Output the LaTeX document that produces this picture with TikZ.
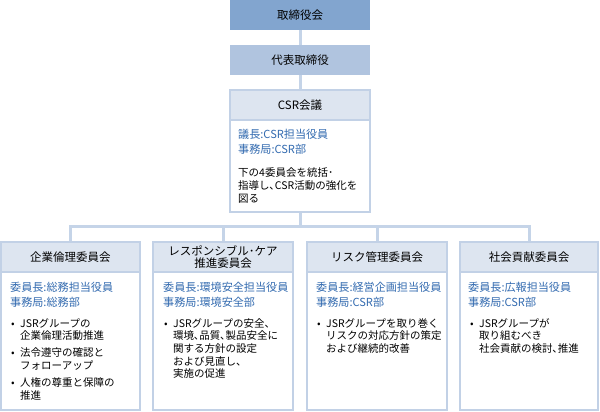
\documentclass[tikz,border=0pt]{standalone}
\usepackage{fontspec}
\setmainfont{Noto Sans CJK JP}
\definecolor{boardfill}{HTML}{82A5CF}
\definecolor{repfill}{HTML}{B0C4DF}
\definecolor{headfill}{HTML}{DDE5F0}
\definecolor{framecol}{HTML}{C2D1E6}
\definecolor{conncol}{HTML}{C5D4E8}
\definecolor{leadblue}{HTML}{336BB0}
\newcommand\mytitle{\fontsize{11.5}{13}\selectfont}
\newcommand\myblue{\fontsize{11.1}{15}\selectfont}
\newcommand\mybody{\fontsize{10.5}{12.7}\selectfont}
\newcommand\bul{\makebox[9pt][l]{•}}
\tikzset{
  fillbox/.style={rectangle, inner sep=0pt, draw=none, font=\mytitle},
  framebox/.style={rectangle, inner sep=0pt, draw=framecol, line width=1.2pt, fill=white},
  headbox/.style={rectangle, inner sep=0pt, draw=framecol, line width=1.2pt, fill=headfill, font=\mytitle, align=center},
  conn/.style={draw=conncol, line width=3pt},
  lead/.style={anchor=base west, inner sep=0pt, font=\myblue, text=leadblue},
  bodytext/.style={anchor=base west, inner sep=0pt, font=\mybody}
}
\begin{document}
\begin{tikzpicture}[x=1pt,y=-1pt]
\useasboundingbox (0,0) rectangle (600,412);
% top chain
\node[fillbox, fill=boardfill, minimum width=140pt, minimum height=30pt] (board) at (300,15) {取締役会};
\node[fillbox, fill=repfill, minimum width=140pt, minimum height=30pt] (rep) at (300,60) {代表取締役};
\node[framebox, minimum width=140pt, minimum height=122pt] (csr) at (300,151) {};
\node[headbox, minimum width=140pt, minimum height=30pt, anchor=north] (csrh) at (csr.north) {CSR会議};
\node[lead] (csrlead) at (238,139) {\begin{tabular}[t]{@{}l@{}}議長:CSR担当役員\\事務局:CSR部\end{tabular}};
\node[bodytext, font=\fontsize{10.5}{13}\selectfont] (csrbody) at (238,176) {\begin{tabular}[t]{@{}l@{}}下の4委員会を統括･\\指導し､CSR活動の強化を\\図る\end{tabular}};
% committees
\node[framebox, minimum width=139pt, minimum height=168pt] (c1) at (70.5,326) {};
\node[framebox, minimum width=140pt, minimum height=168pt] (c2) at (223,326) {};
\node[framebox, minimum width=140pt, minimum height=168pt] (c3) at (377,326) {};
\node[framebox, minimum width=138pt, minimum height=168pt] (c4) at (529,326) {};
\node[headbox, minimum width=139pt, minimum height=30pt, anchor=north] (c1h) at (c1.north) {企業倫理委員会};
\node[headbox, minimum width=140pt, minimum height=30pt, anchor=north] (c2h) at (c2.north) {レスポンシブル･ケア\\[-1pt]推進委員会};
\node[headbox, minimum width=140pt, minimum height=30pt, anchor=north] (c3h) at (c3.north) {リスク管理委員会};
\node[headbox, minimum width=138pt, minimum height=30pt, anchor=north] (c4h) at (c4.north) {社会貢献委員会};
% connectors
\coordinate (bar) at (300,226);
\draw[conn] (board.south) -- (rep.north);
\draw[conn] (rep.south) -- (csr.north);
\draw[conn] (csr.south) -- (bar);
\draw[conn] (c1.north) -- (c1.north |- bar) -- (c4.north |- bar) -- (c4.north);
\draw[conn] (c2.north) -- (c2.north |- bar);
\draw[conn] (c3.north) -- (c3.north |- bar);
% committee texts
\node[lead] (c1lead) at (10,291) {\begin{tabular}[t]{@{}l@{}}委員長:総務担当役員\\事務局:総務部\end{tabular}};
\node[lead] (c2lead) at (163,291) {\begin{tabular}[t]{@{}l@{}}委員長:環境安全担当役員\\事務局:環境安全部\end{tabular}};
\node[lead] (c3lead) at (316,291) {\begin{tabular}[t]{@{}l@{}}委員長:経営企画担当役員\\事務局:CSR部\end{tabular}};
\node[lead] (c4lead) at (468,291) {\begin{tabular}[t]{@{}l@{}}委員長:広報担当役員\\事務局:CSR部\end{tabular}};
\node[bodytext] (c1body) at (11,327) {\begin{tabular}[t]{@{}l@{}l@{}}
\bul&JSRグループの\\
&企業倫理活動推進\\[4.3pt]
\bul&法令遵守の確認と\\
&フォローアップ\\[4.3pt]
\bul&人権の尊重と保障の\\
&推進
\end{tabular}};
\node[bodytext] (c2body) at (164,327) {\begin{tabular}[t]{@{}l@{}l@{}}
\bul&JSRグループの安全、\\
&環境､品質､製品安全に\\
&関する方針の設定\\
&および見直し、\\
&実施の促進
\end{tabular}};
\node[bodytext] (c3body) at (317,327) {\begin{tabular}[t]{@{}l@{}l@{}}
\bul&JSRグループを取り巻く\\
&リスクの対応方針の策定\\
&および継続的改善
\end{tabular}};
\node[bodytext] (c4body) at (470,327) {\begin{tabular}[t]{@{}l@{}l@{}}
\bul&JSRグループが\\
&取り組むべき\\
&社会貢献の検討､推進
\end{tabular}};
\end{tikzpicture}
\end{document}
